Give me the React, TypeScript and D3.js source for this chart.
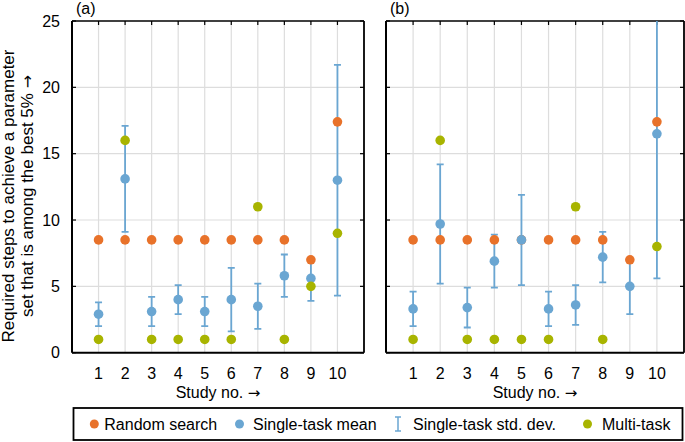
import React from "react";
import * as d3 from "d3";

const studies = [1, 2, 3, 4, 5, 6, 7, 8, 9, 10];
const yTicks = [0, 5, 10, 15, 20, 25];

const randomA = [8.5, 8.5, 8.5, 8.5, 8.5, 8.5, 8.5, 8.5, 7.0, 17.4];
const meanA = [2.9, 13.1, 3.1, 4.0, 3.1, 4.0, 3.5, 5.8, 5.6, 13.0];
const sdLowA = [2.0, 9.1, 2.0, 2.9, 2.0, 1.6, 1.8, 4.2, 3.9, 4.3];
const sdHighA = [3.8, 17.1, 4.2, 5.1, 4.2, 6.4, 5.2, 7.4, 7.1, 21.7];
const multiA: (number | null)[] = [1, 16, 1, 1, 1, 1, 11, 1, 5, 9];

const randomB = [8.5, 8.5, 8.5, 8.5, 8.5, 8.5, 8.5, 8.5, 7.0, 17.4];
const meanB = [3.3, 9.7, 3.4, 6.9, 8.5, 3.3, 3.6, 7.2, 5.0, 16.5];
const sdLowB = [2.0, 5.2, 1.9, 4.9, 5.1, 2.0, 2.1, 5.3, 2.9, 5.6];
const sdHighB = [4.6, 14.2, 4.9, 8.9, 11.9, 4.6, 5.1, 9.1, 7.0, 27.4];
const multiB: (number | null)[] = [1, 16, 1, 1, 1, 1, 11, 1, null, 8];

const legendLabels = ["Random search", "Single-task mean", "Single-task std. dev.", "Multi-task"];

const ORANGE = "#E8722A";
const BLUE = "#6AA6D2";
const OLIVE = "#A8B400";
const GRID = "#dddddd";
const FONT = "'Liberation Sans', Arial, sans-serif";
const ARROW_FONT = "'DejaVu Sans', sans-serif";

type Panel = {
  id: string;
  label: string;
  x0: number;
  x1: number;
  random: number[];
  mean: number[];
  lo: number[];
  hi: number[];
  multi: (number | null)[];
  yLabels: boolean;
};

const panels: Panel[] = [
  { id: "a", label: "(a)", x0: 72, x1: 364, random: randomA, mean: meanA, lo: sdLowA, hi: sdHighA, multi: multiA, yLabels: true },
  { id: "b", label: "(b)", x0: 386, x1: 684, random: randomB, mean: meanB, lo: sdLowB, hi: sdHighB, multi: multiB, yLabels: false },
];

const TOP = 21;
const BOTTOM = 352.7;
const R = 4.8;

function PanelView({ p }: { p: Panel }) {
  const x = d3.scaleLinear().domain([0, 11]).range([p.x0, p.x1]);
  const y = d3.scaleLinear().domain([0, 25]).range([BOTTOM, TOP]);
  const clipId = "clip-" + p.id;
  const cx = (p.x0 + p.x1) / 2;
  return (
    <g>
      <defs>
        <clipPath id={clipId}>
          <rect x={p.x0} y={TOP} width={p.x1 - p.x0} height={BOTTOM - TOP} />
        </clipPath>
      </defs>
      {studies.map((s) => (
        <line key={"vg" + s} x1={x(s)} x2={x(s)} y1={TOP} y2={BOTTOM} stroke={GRID} strokeWidth={1.2} />
      ))}
      {yTicks.slice(1, -1).map((t) => (
        <line key={"hg" + t} x1={p.x0} x2={p.x1} y1={y(t)} y2={y(t)} stroke={GRID} strokeWidth={1.2} />
      ))}
      {studies.map((s) => (
        <line key={"tt" + s} x1={x(s)} x2={x(s)} y1={TOP} y2={TOP + 4} stroke="#000" strokeWidth={1.2} />
      ))}
      {yTicks.map((t) => (
        <g key={"yt" + t}>
          <line x1={p.x0} x2={p.x0 + 4} y1={y(t)} y2={y(t)} stroke="#000" strokeWidth={1.2} />
          <line x1={p.x1 - 4} x2={p.x1} y1={y(t)} y2={y(t)} stroke="#000" strokeWidth={1.2} />
        </g>
      ))}
      <line x1={p.x0} x2={p.x1} y1={TOP} y2={TOP} stroke="#000" strokeWidth={1.6} />
      <line x1={p.x1} x2={p.x1} y1={TOP} y2={BOTTOM} stroke="#000" strokeWidth={1.8} />
      <line x1={p.x0} x2={p.x0} y1={TOP} y2={BOTTOM} stroke="#000" strokeWidth={2} />
      <line x1={p.x0} x2={p.x1} y1={BOTTOM} y2={BOTTOM} stroke="#000" strokeWidth={2} />
      <g clipPath={`url(#${clipId})`}>
        {studies.map((s, i) => (
          <g key={"e" + s} stroke={BLUE} strokeWidth={1.8}>
            <line x1={x(s)} x2={x(s)} y1={y(p.lo[i])} y2={y(p.hi[i])} />
            <line x1={x(s) - 3.5} x2={x(s) + 3.5} y1={y(p.lo[i])} y2={y(p.lo[i])} />
            <line x1={x(s) - 3.5} x2={x(s) + 3.5} y1={y(p.hi[i])} y2={y(p.hi[i])} />
          </g>
        ))}
        {studies.map((s, i) => (
          <circle key={"r" + s} cx={x(s)} cy={y(p.random[i])} r={R} fill={ORANGE} />
        ))}
        {studies.map((s, i) => (
          <circle key={"m" + s} cx={x(s)} cy={y(p.mean[i])} r={R} fill={BLUE} />
        ))}
        {studies.map((s, i) =>
          p.multi[i] == null ? null : (
            <circle key={"mt" + s} cx={x(s)} cy={y(p.multi[i] as number)} r={R} fill={OLIVE} />
          )
        )}
      </g>
      {studies.map((s) => (
        <text key={"xl" + s} x={x(s)} y={378.5} textAnchor="middle" fontSize={16} fontFamily={FONT} fill="#000">
          {s}
        </text>
      ))}
      {p.yLabels &&
        yTicks.map((t) => (
          <text key={"yl" + t} x={p.x0 - 12} y={y(t) + 5.5} textAnchor="end" fontSize={16} fontFamily={FONT} fill="#000">
            {t}
          </text>
        ))}
      <text x={cx} y={398} textAnchor="middle" fontSize={16} fontFamily={FONT} fill="#000">
        Study no. <tspan fontFamily={ARROW_FONT} fontSize={15}>→</tspan>
      </text>
      <text x={p.x0 + 4} y={14} fontSize={16} fontFamily={FONT} fill="#000">
        {p.label}
      </text>
    </g>
  );
}

export default function App() {
  const legendX = [94.3, 239.5, 398, 587.5];
  const legendOff = [10, 13.5, 15, 14.5];
  return (
    <svg width={685} height={442} style={{ position: "absolute", left: 0, top: 0 }}>
      <rect width={685} height={442} fill="#fff" />
      {panels.map((p) => (
        <PanelView key={p.id} p={p} />
      ))}
      <g transform="translate(13.5,196) rotate(-90)">
        <text x={0} y={0} textAnchor="middle" fontSize={17} fontFamily={FONT} fill="#000">
          Required steps to achieve a parameter
        </text>
        <text x={0} y={19.5} textAnchor="middle" fontSize={17} fontFamily={FONT} fill="#000">
          set that is among the best 5% <tspan fontFamily={ARROW_FONT} fontSize={16}>→</tspan>
        </text>
      </g>
      <rect x={73.5} y={408} width={609} height={32} fill="#fff" stroke="#000" strokeWidth={1.8} />
      <circle cx={legendX[0]} cy={424} r={4.5} fill={ORANGE} />
      <circle cx={legendX[1]} cy={424} r={4.5} fill={BLUE} />
      <g stroke={BLUE} strokeWidth={1.5}>
        <line x1={legendX[2]} x2={legendX[2]} y1={417} y2={431} />
        <line x1={legendX[2] - 3} x2={legendX[2] + 3} y1={417} y2={417} />
        <line x1={legendX[2] - 3} x2={legendX[2] + 3} y1={431} y2={431} />
      </g>
      <circle cx={legendX[3]} cy={424} r={4.5} fill={OLIVE} />
      {legendLabels.map((l, i) => (
        <text key={l} x={legendX[i] + legendOff[i]} y={430} fontSize={16} fontFamily={FONT} fill="#000">
          {l}
        </text>
      ))}
    </svg>
  );
}
